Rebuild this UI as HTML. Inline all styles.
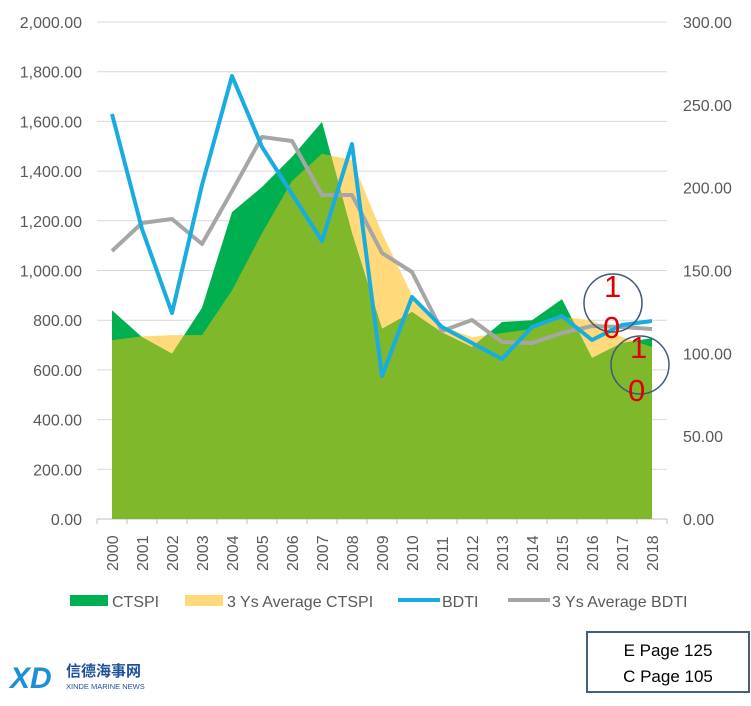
<!DOCTYPE html>
<html><head><meta charset="utf-8"><style>
body{margin:0;background:#fff;width:751px;height:701px;overflow:hidden;font-family:"Liberation Sans",sans-serif}
svg text{font-family:"Liberation Sans","Noto Sans CJK SC",sans-serif}
</style></head><body>
<svg id="s" width="751" height="701" xmlns="http://www.w3.org/2000/svg">
<g id="grid" stroke="#d9d9d9" stroke-width="1"></g>
<g id="areas"></g>
<g id="lines" fill="none" stroke-linejoin="round" stroke-width="4"></g>
<g id="labels" font-size="16" fill="#595959"></g>
<g fill="none" stroke="#3f5a78" stroke-width="1.5">
<circle cx="613" cy="303" r="29"/><circle cx="640" cy="365" r="29"/></g>
<g fill="#e00000" font-size="31">
<text x="604" y="297">1</text><text x="603" y="338">0</text>
<text x="630" y="358">1</text><text x="628" y="401">0</text></g>
<g font-size="16" fill="#595959">
<rect x="70" y="595" width="38" height="11" fill="#00b050"/><text x="112" y="607">CTSPI</text>
<rect x="185" y="595" width="38" height="11" fill="#ffd97a"/><text x="227" y="607">3 Ys Average CTSPI</text>
<line x1="398" y1="600" x2="440" y2="600" stroke="#18ace0" stroke-width="4"/><text x="442" y="607">BDTI</text>
<line x1="508" y1="600" x2="550" y2="600" stroke="#a6a6a6" stroke-width="4"/><text x="552" y="607">3 Ys Average BDTI</text>
</g>
<rect x="587" y="632" width="162" height="60" fill="#fff" stroke="#41607e" stroke-width="2"/>
<text x="668" y="656" font-size="17" text-anchor="middle" fill="#000">E Page 125</text>
<text x="668" y="682" font-size="17" text-anchor="middle" fill="#000">C Page 105</text>
<text x="10" y="688" font-size="30" font-weight="bold" fill="#1d8fd6" font-style="italic">XD</text>
<text x="66" y="676" font-size="15" fill="#1d4f9c" font-weight="bold">信德海事网</text>
<text x="66" y="689" font-size="7.5" fill="#1d4f9c">XINDE MARINE NEWS</text>
</svg>
<script>
var X=i=>112+30*i, yL=v=>519-v*497/2000;
var g=document.getElementById('grid'),lb=document.getElementById('labels'),ns='http://www.w3.org/2000/svg';
function el(p,t,a,tx){var e=document.createElementNS(ns,t);for(var k in a)e.setAttribute(k,a[k]);if(tx)e.textContent=tx;p.appendChild(e);return e}
for(var i=0;i<=10;i++){var y=yL(i*200);el(g,'line',{x1:97,x2:667,y1:y,y2:y,stroke:i==0?'#bfbfbf':'#d9d9d9'});
el(lb,'text',{x:82,y:y+6,'text-anchor':'end'},(i*200).toLocaleString('en-US',{minimumFractionDigits:2}));}
for(var i=0;i<=6;i++){el(lb,'text',{x:683,y:yL(i*2000/6)+6},(i*50).toFixed(2));}
for(var i=0;i<19;i++){var x=X(i);el(g,'line',{x1:x-15,x2:x-15,y1:519,y2:524,stroke:'#bfbfbf'});
el(lb,'text',{x:0,y:0,transform:'translate('+(x+6)+',571) rotate(-90)'},2000+i);}
el(g,'line',{x1:667,x2:667,y1:519,y2:524,stroke:'#bfbfbf'});
var c=[840,732,665,850,1235,1336,1457,1598,1150,765,833,750,692,793,800,885,648,708,728];
var a=[720,735,740,740,920,1150,1360,1470,1445,1150,900,775,732,748,765,813,800,732,692];
var ar=document.getElementById('areas');
function poly(v,col){var p='112,519 ';v.forEach((q,i)=>p+=X(i)+','+yL(q)+' ');p+='652,519';el(ar,'polygon',{points:p,fill:col})}
poly(a,'#ffd97a');poly(c,'#00b050');
var pts=[];for(var i=0;i<19;i++){pts.push([X(i),yL(Math.min(c[i],a[i]))]);
if(i<18){var d1=c[i]-a[i],d2=c[i+1]-a[i+1];if(d1*d2<0){var t=d1/(d1-d2);pts.push([X(i)+30*t,yL(c[i]+t*(c[i+1]-c[i]))]);}}}
var p='112,519 ';pts.forEach(q=>p+=q[0]+','+q[1]+' ');p+='652,519';el(ar,'polygon',{points:p,fill:'#7fb82a'});
var L=document.getElementById('lines');
var b=[114,229,313,185,76,147,194,241,144,376,297,327,343,359,327,316,340,325,321];
var gb=[251,223,219,244,191,137,141,195,195,253,272,331,320,342,343,333,326,327,329];
function pl(v,col){el(L,'polyline',{points:v.map((y,i)=>X(i)+','+y).join(' '),stroke:col})}
pl(gb,'#a6a6a6');pl(b,'#18ace0');
</script>
</body></html>
